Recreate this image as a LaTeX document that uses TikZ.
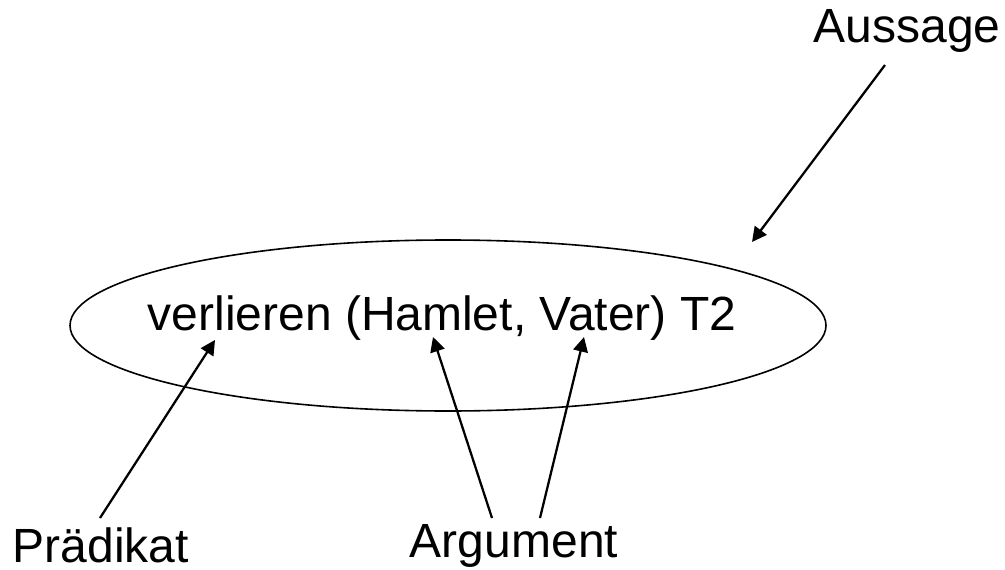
\documentclass[tikz,border=0pt]{standalone}
\usepackage{fontspec}
\setmainfont{Liberation Sans}
\usetikzlibrary{arrows.meta,shapes.geometric}
\begin{document}
\begin{tikzpicture}[x=0.75pt,y=-0.75pt,
  lbl/.style={font=\fontsize{36}{40}\selectfont, inner sep=0pt},
  arr/.style={line width=1.7pt, -{Triangle[length=11pt,width=11pt]}},
  oval/.style={draw, line width=1.2pt, ellipse, minimum width=756*0.75pt, minimum height=171*0.75pt, inner sep=0pt}]
\useasboundingbox (0,0) rectangle (1005,570);
\node[oval] (ell) at (448,325.5) {};
\node[lbl] (txt) at (442,318) {verlieren (Hamlet, Vater) T2};
\node[lbl] (aus) at (907,31) {Aussage};
\node[lbl] (pra) at (101,545) {Prädikat};
\node[lbl] (arg) at (514,546) {Argument};
\coordinate (a0) at (885,65);
\coordinate (a1) at (752,242);
\coordinate (p0) at (100,518);
\coordinate (p1) at (215,340);
\coordinate (h0) at (492,518);
\coordinate (h1) at (433,337);
\coordinate (v0) at (540,518);
\coordinate (v1) at (584,337);
\draw[arr] (a0) -- (a1);
\draw[arr] (p0) -- (p1);
\draw[arr] (h0) -- (h1);
\draw[arr] (v0) -- (v1);
\end{tikzpicture}
\end{document}
